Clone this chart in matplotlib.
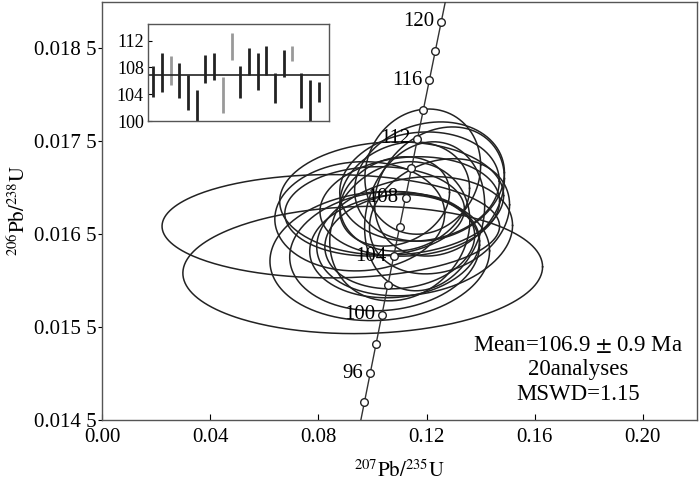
import numpy as np
import matplotlib
matplotlib.use("Agg")
import matplotlib.pyplot as plt

plt.rcParams['font.family'] = ['Liberation Serif', 'DejaVu Serif']
plt.rcParams['mathtext.fontset'] = 'stix'

# ---- data ----
# ellipse centres (207Pb/235U, 206Pb/238U), half-widths and correlation
ell_cx = [0.0846, 0.0964, 0.1186, 0.1071, 0.1027, 0.1045, 0.1082, 0.1101, 0.1156, 0.1174,
          0.1211, 0.1119, 0.1082, 0.1138, 0.1248, 0.1008, 0.1193, 0.1101, 0.0953, 0.1248]
ell_cy = [0.016586, 0.016115, 0.017174, 0.016885, 0.016265, 0.016318, 0.016372, 0.016425, 0.016479, 0.017013,
          0.017067, 0.016906, 0.016853, 0.016799, 0.016960, 0.016746, 0.016693, 0.016532, 0.016693, 0.016693]
ell_sx = [0.0624, 0.0665, 0.0214, 0.0414, 0.0406, 0.0351, 0.0314, 0.0277, 0.0362, 0.0295,
          0.0277, 0.0240, 0.0203, 0.0332, 0.0240, 0.0332, 0.0222, 0.0259, 0.0314, 0.0259]
ell_sy = [0.000556, 0.000685, 0.000674, 0.000610, 0.000695, 0.000642, 0.000556, 0.000513, 0.000642, 0.000588,
          0.000642, 0.000588, 0.000481, 0.000535, 0.000695, 0.000481, 0.000802, 0.000749, 0.000588, 0.000620]
ell_rho = [0.0, 0.05, 0.1, 0.05, 0.08, 0.1, 0.1, 0.12, 0.18, 0.1,
           0.15, 0.15, 0.2, 0.1, 0.2, 0.05, 0.15, 0.15, 0.05, 0.2]

# concordia
lam238 = 1.55125e-10
lam235 = 9.8485e-10
marker_ages = [94, 96, 98, 100, 102, 104, 106, 108, 110, 112, 114, 116, 118, 120]
label_ages = [96, 100, 104, 108, 112, 116, 120]

# inset: weighted-mean age bars (Ma)
bar_lo = [103.65, 104.4, 105.4, 103.4, 101.65, 100.0, 105.65, 106.15, 101.15, 109.15,
          103.4, 106.9, 104.65, 106.9, 102.65, 106.65, 108.9, 101.9, 99.65, 102.9]
bar_hi = [108.15, 110.15, 109.65, 108.65, 106.9, 104.65, 109.9, 110.15, 106.65, 113.15,
          108.15, 110.9, 110.15, 111.15, 107.15, 110.65, 111.15, 107.15, 106.15, 105.9]
bar_gray = [False, False, True, False, False, False, False, False, True, True,
            False, False, False, False, False, False, True, False, False, False]
mean_age = 106.9

xticks = [0.00, 0.04, 0.08, 0.12, 0.16, 0.20]
xticklabels = ['0.00', '0.04', '0.08', '0.12', '0.16', '0.20']
yticks = [0.0145, 0.0155, 0.0165, 0.0175, 0.0185]
yticklabels = ['0.014 5', '0.015 5', '0.016 5', '0.017 5', '0.018 5']
inset_yticks = [100, 104, 108, 112]

# ---- figure ----
fig = plt.figure(figsize=(7.0, 4.87), dpi=100)
ax = fig.add_axes([102/700, 1-420/487, (697-102)/700, (420-2)/487])

t = np.linspace(0, 2*np.pi, 300)
for cx, cy, sx, sy, r in zip(ell_cx, ell_cy, ell_sx, ell_sy, ell_rho):
    xs = cx + sx*np.cos(t)
    ys = cy + sy*(r*np.cos(t) + np.sqrt(1-r*r)*np.sin(t))
    ax.plot(xs, ys, color='#222222', lw=1.1, zorder=2)

ages_line = np.linspace(90, 126, 400)*1e6
ax.plot(np.exp(lam235*ages_line)-1, np.exp(lam238*ages_line)-1, color='#333333', lw=1.0, zorder=3)
ma = np.array(marker_ages)*1e6
ax.plot(np.exp(lam235*ma)-1, np.exp(lam238*ma)-1, 'o', ms=5.5, mfc='white', mec='#222222', mew=1.0, zorder=4)
for a in label_ages:
    xa = np.exp(lam235*a*1e6)-1
    ya = np.exp(lam238*a*1e6)-1
    ax.annotate(str(a), (xa, ya), xytext=(-5, 0), textcoords='offset points',
                ha='right', va='center', fontsize=15, zorder=5)

ax.set_xlim(0, 0.22)
ax.set_ylim(0.0145, 0.0190)
ax.set_xticks(xticks)
ax.set_xticklabels(xticklabels, fontsize=15)
ax.set_yticks(yticks)
ax.set_yticklabels(yticklabels, fontsize=15)
ax.tick_params(axis='x', direction='in', length=4, pad=6)
ax.tick_params(axis='y', direction='out', length=3, pad=1)
for s in ax.spines.values():
    s.set_color('#555555')
    s.set_linewidth(1.0)
ax.set_xlabel(r'$^{207}\mathrm{Pb}/^{235}\mathrm{U}$', fontsize=15, labelpad=9)
ax.set_ylabel(r'$^{206}\mathrm{Pb}/^{238}\mathrm{U}$', fontsize=15, labelpad=3)

ax.text(0.80, 0.12, 'Mean=106.9 $\\pm$ 0.9 Ma\n20analyses\nMSWD=1.15',
        transform=ax.transAxes, ha='center', va='center', fontsize=16.5,
        linespacing=1.2)

# ---- inset ----
ins = fig.add_axes([148/700, 1-121/487, (329-148)/700, (121-24)/487])
for i, (lo, hi, g) in enumerate(zip(bar_lo, bar_hi, bar_gray)):
    ins.plot([i+1, i+1], [lo, hi], color='#999999' if g else '#222222', lw=2.0, solid_capstyle='butt')
ins.axhline(mean_age, color='#222222', lw=1.2)
ins.set_xlim(0.4, 21.2)
ins.set_ylim(100, 114.5)
ins.set_xticks([])
ins.set_yticks(inset_yticks)
ins.set_yticklabels([str(v) for v in inset_yticks], fontsize=13)
ins.tick_params(axis='y', direction='in', length=3, pad=3)
for s in ins.spines.values():
    s.set_color('#555555')
    s.set_linewidth(1.0)

fig.savefig('out.png', dpi=100)
